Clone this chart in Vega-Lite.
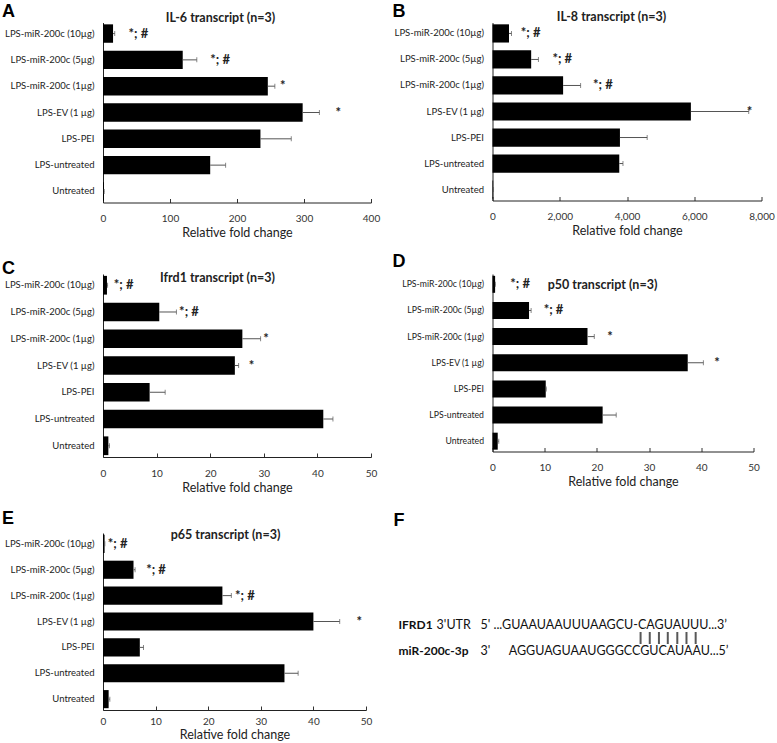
{
  "$schema": "https://vega.github.io/schema/vega-lite/v6.json",
  "background": "white",
  "padding": {"left": 2, "top": 2.5, "right": 0, "bottom": 0},
  "config": {
    "view": {"stroke": null},
    "font": "Lato",
    "title": {"font": "Liberation Sans", "fontSize": 18, "fontWeight": "bold", "color": "black", "anchor": "start", "frame": "group", "baseline": "top"},
    "axis": {"grid": false, "labelFont": "Lato", "titleFont": "Lato"},
    "axisY": {"titleAngle": 0, "titleAlign": "center", "titleBaseline": "alphabetic", "titleFontSize": 12.5, "titleFontWeight": "bold", "titleColor": "#222", "ticks": false, "labelPadding": 9, "labelFontSize": 9.5, "labelColor": "#222", "domainColor": "#222", "labelLimit": 200},
    "axisX": {"labelFlush": false, "labelOverlap": false, "tickSize": -4, "tickColor": "#333", "domainColor": "#222", "labelPadding": 15, "labelFontSize": 10, "labelColor": "#333", "titleFontSize": 12.5, "titleFontWeight": "normal", "titleColor": "#222", "titlePadding": 3}
  },
  "datasets": {
    "il6": [
      {"group": "LPS-miR-200c (10µg)", "value": 15, "upper": 17.5, "sig": "*; #", "sigX": 38},
      {"group": "LPS-miR-200c (5µg)", "value": 119, "upper": 140, "sig": "*; #", "sigX": 160},
      {"group": "LPS-miR-200c (1µg)", "value": 246, "upper": 256.5, "sig": "*", "sigX": 264},
      {"group": "LPS-EV (1 µg)", "value": 298, "upper": 323, "sig": "*", "sigX": 347},
      {"group": "LPS-PEI", "value": 235, "upper": 281, "sig": "", "sigX": null},
      {"group": "LPS-untreated", "value": 160, "upper": 183, "sig": "", "sigX": null},
      {"group": "Untreated", "value": 1.5, "upper": 1.8, "sig": "", "sigX": null}
    ],
    "il8": [
      {"group": "LPS-miR-200c (10µg)", "value": 490, "upper": 565, "sig": "*; #", "sigX": 842},
      {"group": "LPS-miR-200c (5µg)", "value": 1150, "upper": 1366, "sig": "*; #", "sigX": 1782},
      {"group": "LPS-miR-200c (1µg)", "value": 2100, "upper": 2620, "sig": "*; #", "sigX": 2990},
      {"group": "LPS-EV (1 µg)", "value": 5900, "upper": 7620, "sig": "*", "sigX": 7560},
      {"group": "LPS-PEI", "value": 3790, "upper": 4600, "sig": "", "sigX": null},
      {"group": "LPS-untreated", "value": 3770, "upper": 3880, "sig": "", "sigX": null},
      {"group": "Untreated", "value": 20, "upper": 30, "sig": "", "sigX": null}
    ],
    "ifrd1": [
      {"group": "LPS-miR-200c (10µg)", "value": 0.74, "upper": 0.85, "sig": "*; #", "sigX": 2.0},
      {"group": "LPS-miR-200c (5µg)", "value": 10.5, "upper": 13.7, "sig": "*; #", "sigX": 14.2},
      {"group": "LPS-miR-200c (1µg)", "value": 26, "upper": 29.4, "sig": "*", "sigX": 29.9},
      {"group": "LPS-EV (1 µg)", "value": 24.6, "upper": 25.3, "sig": "*", "sigX": 27.2},
      {"group": "LPS-PEI", "value": 8.7, "upper": 11.6, "sig": "", "sigX": null},
      {"group": "LPS-untreated", "value": 41.1, "upper": 42.9, "sig": "", "sigX": null},
      {"group": "Untreated", "value": 1.0, "upper": 1.2, "sig": "", "sigX": null}
    ],
    "p50": [
      {"group": "LPS-miR-200c (10µg)", "value": 0.5, "upper": 0.55, "sig": "*; #", "sigX": 3.4},
      {"group": "LPS-miR-200c (5µg)", "value": 7.0, "upper": 7.4, "sig": "*; #", "sigX": 9.8},
      {"group": "LPS-miR-200c (1µg)", "value": 18.2, "upper": 19.5, "sig": "*", "sigX": 22.0},
      {"group": "LPS-EV (1 µg)", "value": 37.4, "upper": 40.4, "sig": "*", "sigX": 42.5},
      {"group": "LPS-PEI", "value": 10.2, "upper": 10.3, "sig": "", "sigX": null},
      {"group": "LPS-untreated", "value": 21.1, "upper": 23.7, "sig": "", "sigX": null},
      {"group": "Untreated", "value": 1.0, "upper": 1.2, "sig": "", "sigX": null}
    ],
    "p65": [
      {"group": "LPS-miR-200c (10µg)", "value": 0.3, "upper": 0.35, "sig": "*; #", "sigX": 0.9},
      {"group": "LPS-miR-200c (5µg)", "value": 5.8, "upper": 6.1, "sig": "*; #", "sigX": 8.2},
      {"group": "LPS-miR-200c (1µg)", "value": 22.7, "upper": 24.4, "sig": "*; #", "sigX": 25.1},
      {"group": "LPS-EV (1 µg)", "value": 40.0, "upper": 45.0, "sig": "*", "sigX": 48.2},
      {"group": "LPS-PEI", "value": 7.0, "upper": 7.7, "sig": "", "sigX": null},
      {"group": "LPS-untreated", "value": 34.5, "upper": 37.1, "sig": "", "sigX": null},
      {"group": "Untreated", "value": 1.07, "upper": 1.3, "sig": "", "sigX": null}
    ],
    "seq": [
      {"row": 1, "pos": 0, "txt": "IFRD1", "kind": "bold"},
      {"row": 1, "pos": 11.2, "txt": "3'UTR", "kind": "normal"},
      {"row": 1, "pos": 24.1, "txt": "5' ...GUAAUAAUUUAAGCU-CAGUAUUU...3’", "kind": "normal"},
      {"row": 2, "pos": 71.2, "txt": "|", "kind": "bar"},
      {"row": 2, "pos": 73.9, "txt": "|", "kind": "bar"},
      {"row": 2, "pos": 76.6, "txt": "|", "kind": "bar"},
      {"row": 2, "pos": 79.2, "txt": "|", "kind": "bar"},
      {"row": 2, "pos": 82.0, "txt": "|", "kind": "bar"},
      {"row": 2, "pos": 84.7, "txt": "|", "kind": "bar"},
      {"row": 2, "pos": 87.4, "txt": "|", "kind": "bar"},
      {"row": 3, "pos": 0, "txt": "miR-200c-3p", "kind": "bold"},
      {"row": 3, "pos": 24.1, "txt": "3'", "kind": "normal"},
      {"row": 3, "pos": 32.4, "txt": "AGGUAGUAAUGGGCCGUCAUAAU...5’", "kind": "normal"}
    ]
  },
  "spacing": 15.5,
  "vconcat": [
    {
      "spacing": 13.5,
      "vconcat": [
        {
          "spacing": 12.5,
          "hconcat": [
            {
              "data": {"name": "il6"},
              "width": 268, "height": 180,
              "title": {"text": "A", "offset": -9.8, "dx": -101},
              "encoding": {"y": {"field": "group", "type": "nominal", "sort": null, "scale": {"paddingInner": 0.3, "paddingOuter": 0.07}, "axis": {"title": "IL-6 transcript (n=3)", "titleX": 117, "titleY": -1}}},
              "layer": [
                {"mark": {"type": "bar", "color": "black"}, "encoding": {"x": {"field": "value", "type": "quantitative", "scale": {"domain": [0, 400], "nice": false}, "axis": {"title": "Relative fold change", "values": [0, 100, 200, 300, 400]}}}},
                {"mark": {"type": "rule", "color": "#555"}, "encoding": {"x": {"field": "value", "type": "quantitative"}, "x2": {"field": "upper"}}},
                {"mark": {"type": "tick", "orient": "vertical", "color": "#555", "size": 5, "thickness": 1}, "encoding": {"x": {"field": "upper", "type": "quantitative"}}},
                {"mark": {"type": "text", "align": "left", "baseline": "middle", "fontSize": 13, "fontWeight": "bold", "color": "#222"}, "encoding": {"x": {"field": "sigX", "type": "quantitative"}, "text": {"field": "sig"}}}
              ]
            },
            {
              "data": {"name": "il8"},
              "width": 269, "height": 178,
              "title": {"text": "B", "offset": -10.8, "dx": -100},
              "encoding": {"y": {"field": "group", "type": "nominal", "sort": null, "scale": {"paddingInner": 0.3, "paddingOuter": 0.07}, "axis": {"title": "IL-8 transcript (n=3)", "titleX": 118.5, "titleY": -2}}},
              "layer": [
                {"mark": {"type": "bar", "color": "black"}, "encoding": {"x": {"field": "value", "type": "quantitative", "scale": {"domain": [0, 8000], "nice": false}, "axis": {"title": "Relative fold change", "values": [0, 1000, 2000, 3000, 4000, 5000, 6000, 7000, 8000], "format": ",.0f"}}}},
                {"mark": {"type": "rule", "color": "#555"}, "encoding": {"x": {"field": "value", "type": "quantitative"}, "x2": {"field": "upper"}}},
                {"mark": {"type": "tick", "orient": "vertical", "color": "#555", "size": 5, "thickness": 1}, "encoding": {"x": {"field": "upper", "type": "quantitative"}}},
                {"mark": {"type": "text", "align": "left", "baseline": "middle", "fontSize": 13, "fontWeight": "bold", "color": "#222"}, "encoding": {"x": {"field": "sigX", "type": "quantitative"}, "text": {"field": "sig"}}}
              ]
            }
          ]
        },
        {
          "spacing": 15.5,
          "hconcat": [
            {
              "data": {"name": "ifrd1"},
              "width": 268, "height": 183,
              "title": {"text": "C", "offset": -6, "dx": -101},
              "encoding": {"y": {"field": "group", "type": "nominal", "sort": null, "scale": {"paddingInner": 0.3, "paddingOuter": 0.07}, "axis": {"title": "Ifrd1 transcript (n=3)", "titleX": 114, "titleY": 7.5}}},
              "layer": [
                {"mark": {"type": "bar", "color": "black"}, "encoding": {"x": {"field": "value", "type": "quantitative", "scale": {"domain": [0, 50], "nice": false}, "axis": {"title": "Relative fold change", "values": [0, 10, 20, 30, 40, 50]}}}},
                {"mark": {"type": "rule", "color": "#555"}, "encoding": {"x": {"field": "value", "type": "quantitative"}, "x2": {"field": "upper"}}},
                {"mark": {"type": "tick", "orient": "vertical", "color": "#555", "size": 5, "thickness": 1}, "encoding": {"x": {"field": "upper", "type": "quantitative"}}},
                {"mark": {"type": "text", "align": "left", "baseline": "middle", "fontSize": 13, "fontWeight": "bold", "color": "#222"}, "encoding": {"x": {"field": "sigX", "type": "quantitative"}, "text": {"field": "sig"}}}
              ]
            },
            {
              "data": {"name": "p50"},
              "width": 261, "height": 177.5,
              "title": {"text": "D", "offset": 3, "dx": -100},
              "encoding": {"y": {"field": "group", "type": "nominal", "sort": null, "scale": {"paddingInner": 0.35, "paddingOuter": 0.07}, "axis": {"title": "p50 transcript (n=3)", "titleX": 109.5, "titleY": 14.5, "labelFontSize": 8.7}}},
              "layer": [
                {"mark": {"type": "bar", "color": "black"}, "encoding": {"x": {"field": "value", "type": "quantitative", "scale": {"domain": [0, 50], "nice": false}, "axis": {"title": "Relative fold change", "values": [0, 10, 20, 30, 40, 50]}}}},
                {"mark": {"type": "rule", "color": "#555"}, "encoding": {"x": {"field": "value", "type": "quantitative"}, "x2": {"field": "upper"}}},
                {"mark": {"type": "tick", "orient": "vertical", "color": "#555", "size": 5, "thickness": 1}, "encoding": {"x": {"field": "upper", "type": "quantitative"}}},
                {"mark": {"type": "text", "align": "left", "baseline": "middle", "fontSize": 13, "fontWeight": "bold", "color": "#222"}, "encoding": {"x": {"field": "sigX", "type": "quantitative"}, "text": {"field": "sig"}}}
              ]
            }
          ]
        }
      ]
    },
    {
      "spacing": 21.5,
      "hconcat": [
        {
          "data": {"name": "p65"},
          "width": 263, "height": 177,
          "title": {"text": "E", "offset": 0.5, "dx": -101},
          "encoding": {"y": {"field": "group", "type": "nominal", "sort": null, "scale": {"paddingInner": 0.3, "paddingOuter": 0.07}, "axis": {"title": "p65 transcript (n=3)", "titleX": 122, "titleY": 5}}},
          "layer": [
            {"mark": {"type": "bar", "color": "black"}, "encoding": {"x": {"field": "value", "type": "quantitative", "scale": {"domain": [0, 50], "nice": false}, "axis": {"title": "Relative fold change", "values": [0, 10, 20, 30, 40, 50], "labelPadding": 10.5, "titlePadding": 2}}}},
            {"mark": {"type": "rule", "color": "#555"}, "encoding": {"x": {"field": "value", "type": "quantitative"}, "x2": {"field": "upper"}}},
            {"mark": {"type": "tick", "orient": "vertical", "color": "#555", "size": 5, "thickness": 1}, "encoding": {"x": {"field": "upper", "type": "quantitative"}}},
            {"mark": {"type": "text", "align": "left", "baseline": "middle", "fontSize": 13, "fontWeight": "bold", "color": "#222"}, "encoding": {"x": {"field": "sigX", "type": "quantitative"}, "text": {"field": "sig"}}}
          ]
        },
        {
          "data": {"name": "seq"},
          "width": 340, "height": 177,
          "view": {"fill": "white", "stroke": null},
          "title": {"text": "F", "offset": 3.5, "dx": -5},
          "encoding": {
            "y": {"field": "row", "type": "quantitative", "scale": {"domain": [-6.077, 7.538], "reverse": true, "nice": false, "zero": false}, "axis": null},
            "x": {"field": "pos", "type": "quantitative", "scale": {"domain": [0, 100]}, "axis": null}
          },
          "layer": [
            {"transform": [{"filter": "datum.kind === 'bold'"}], "mark": {"type": "text", "align": "left", "baseline": "middle", "fontSize": 12, "fontWeight": "bold", "color": "#111"}, "encoding": {"text": {"field": "txt"}}},
            {"transform": [{"filter": "datum.kind === 'normal'"}], "mark": {"type": "text", "align": "left", "baseline": "middle", "fontSize": 12.5, "color": "#111"}, "encoding": {"text": {"field": "txt"}}},
            {"transform": [{"filter": "datum.kind === 'bar'"}], "mark": {"type": "tick", "orient": "vertical", "size": 12, "thickness": 2, "color": "#111"}}
          ]
        }
      ]
    }
  ]
}
